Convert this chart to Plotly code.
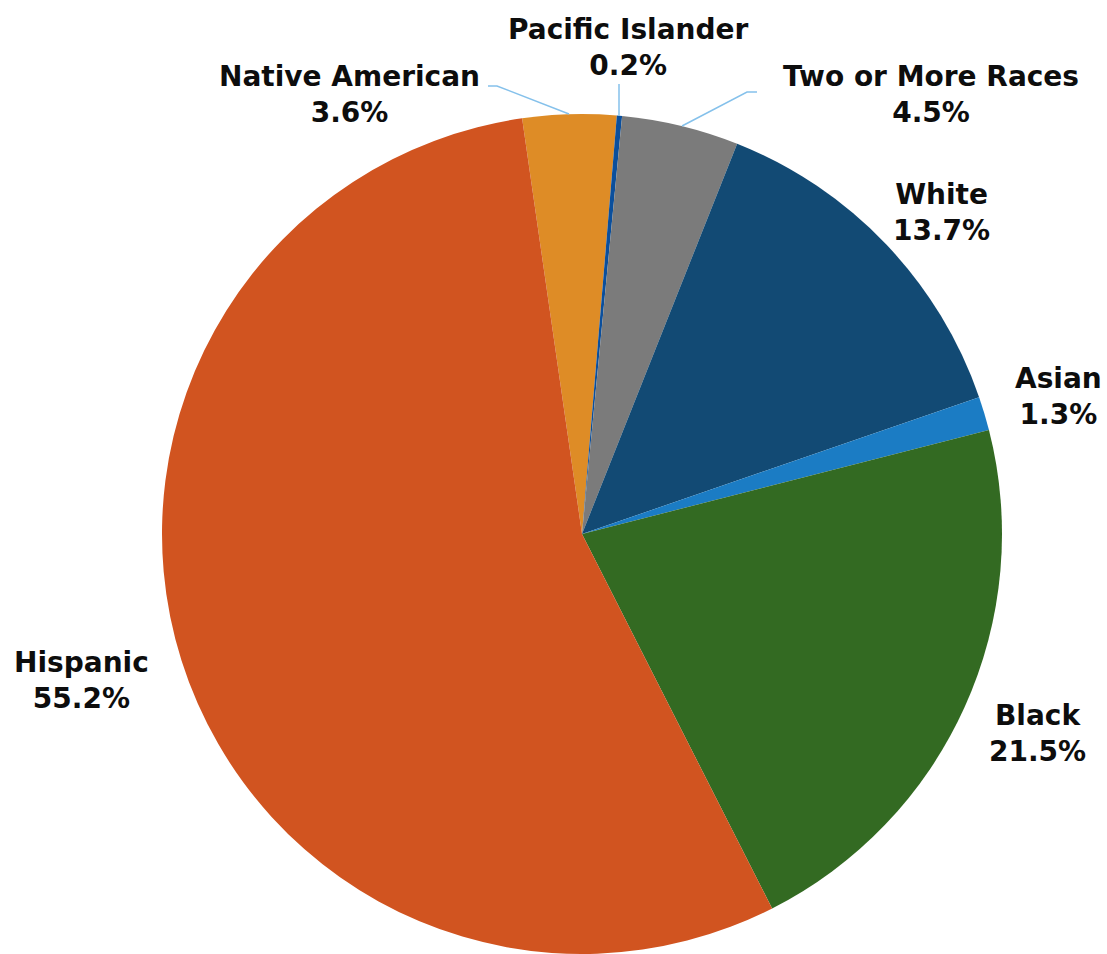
import plotly.graph_objects as go

# ---- data ----
categories = ["Native American", "Pacific Islander", "Two or More Races", "White",
              "Asian", "Black", "Hispanic"]
percentages = [3.6, 0.2, 4.5, 13.7, 1.3, 21.5, 55.2]
colors = ["#DE8C26", "#0B4F9C", "#7B7B7B", "#124A74", "#1B7CC4", "#336A22", "#D15420"]

# ---- layout constants (pixels) ----
W, H = 1107, 954
CX, CY, R = 582, 534, 420
START_ANGLE = -8.2

# label block centres (pixel coords, y downward)
label_pos = {
    "Native American": (349, 94),
    "Pacific Islander": (629, 47),
    "Two or More Races": (931, 94),
    "White": (941, 212),
    "Asian": (1058, 396),
    "Black": (1037, 733),
    "Hispanic": (81, 680),
}
# leader lines (pixel coords)
leaders = {
    "Native American": [(488, 86), (497, 86), (569, 114)],
    "Pacific Islander": [(619, 84), (619, 116)],
    "Two or More Races": [(757, 92), (747, 92), (682, 126)],
}

def px(x):
    return x / W

def py(y):
    return 1 - y / H

fig = go.Figure()
fig.add_trace(go.Pie(
    labels=categories,
    values=percentages,
    sort=False,
    direction="clockwise",
    rotation=START_ANGLE,
    marker=dict(colors=colors, line=dict(width=0)),
    textinfo="none",
    hoverinfo="label+percent",
    automargin=False,
    showlegend=False,
    domain=dict(x=[px(CX - R), px(CX + R)], y=[py(CY + R), py(CY - R)]),
))

annotations = []
for cat, val in zip(categories, percentages):
    x, y = label_pos[cat]
    annotations.append(dict(
        x=px(x), y=py(y), xref="paper", yref="paper",
        text=f"<b>{cat}</b><br><b>{val:.1f}%</b>",
        showarrow=False, xanchor="center", yanchor="middle", align="center",
        font=dict(family="DejaVu Sans", size=28, color="#0d0d0d"),
    ))

shapes = []
for cat, pts in leaders.items():
    path = "M " + " L ".join(f"{px(x):.5f},{py(y):.5f}" for x, y in pts)
    shapes.append(dict(type="path", path=path, xref="paper", yref="paper",
                       line=dict(color="#85C1EB", width=1.5)))

fig.update_layout(
    width=W, height=H,
    margin=dict(l=0, r=0, t=0, b=0),
    paper_bgcolor="white", plot_bgcolor="white",
    annotations=annotations, shapes=shapes,
)

fig.write_html("out.html", config={"displayModeBar": False},
               post_script="document.body.style.margin='0';")
